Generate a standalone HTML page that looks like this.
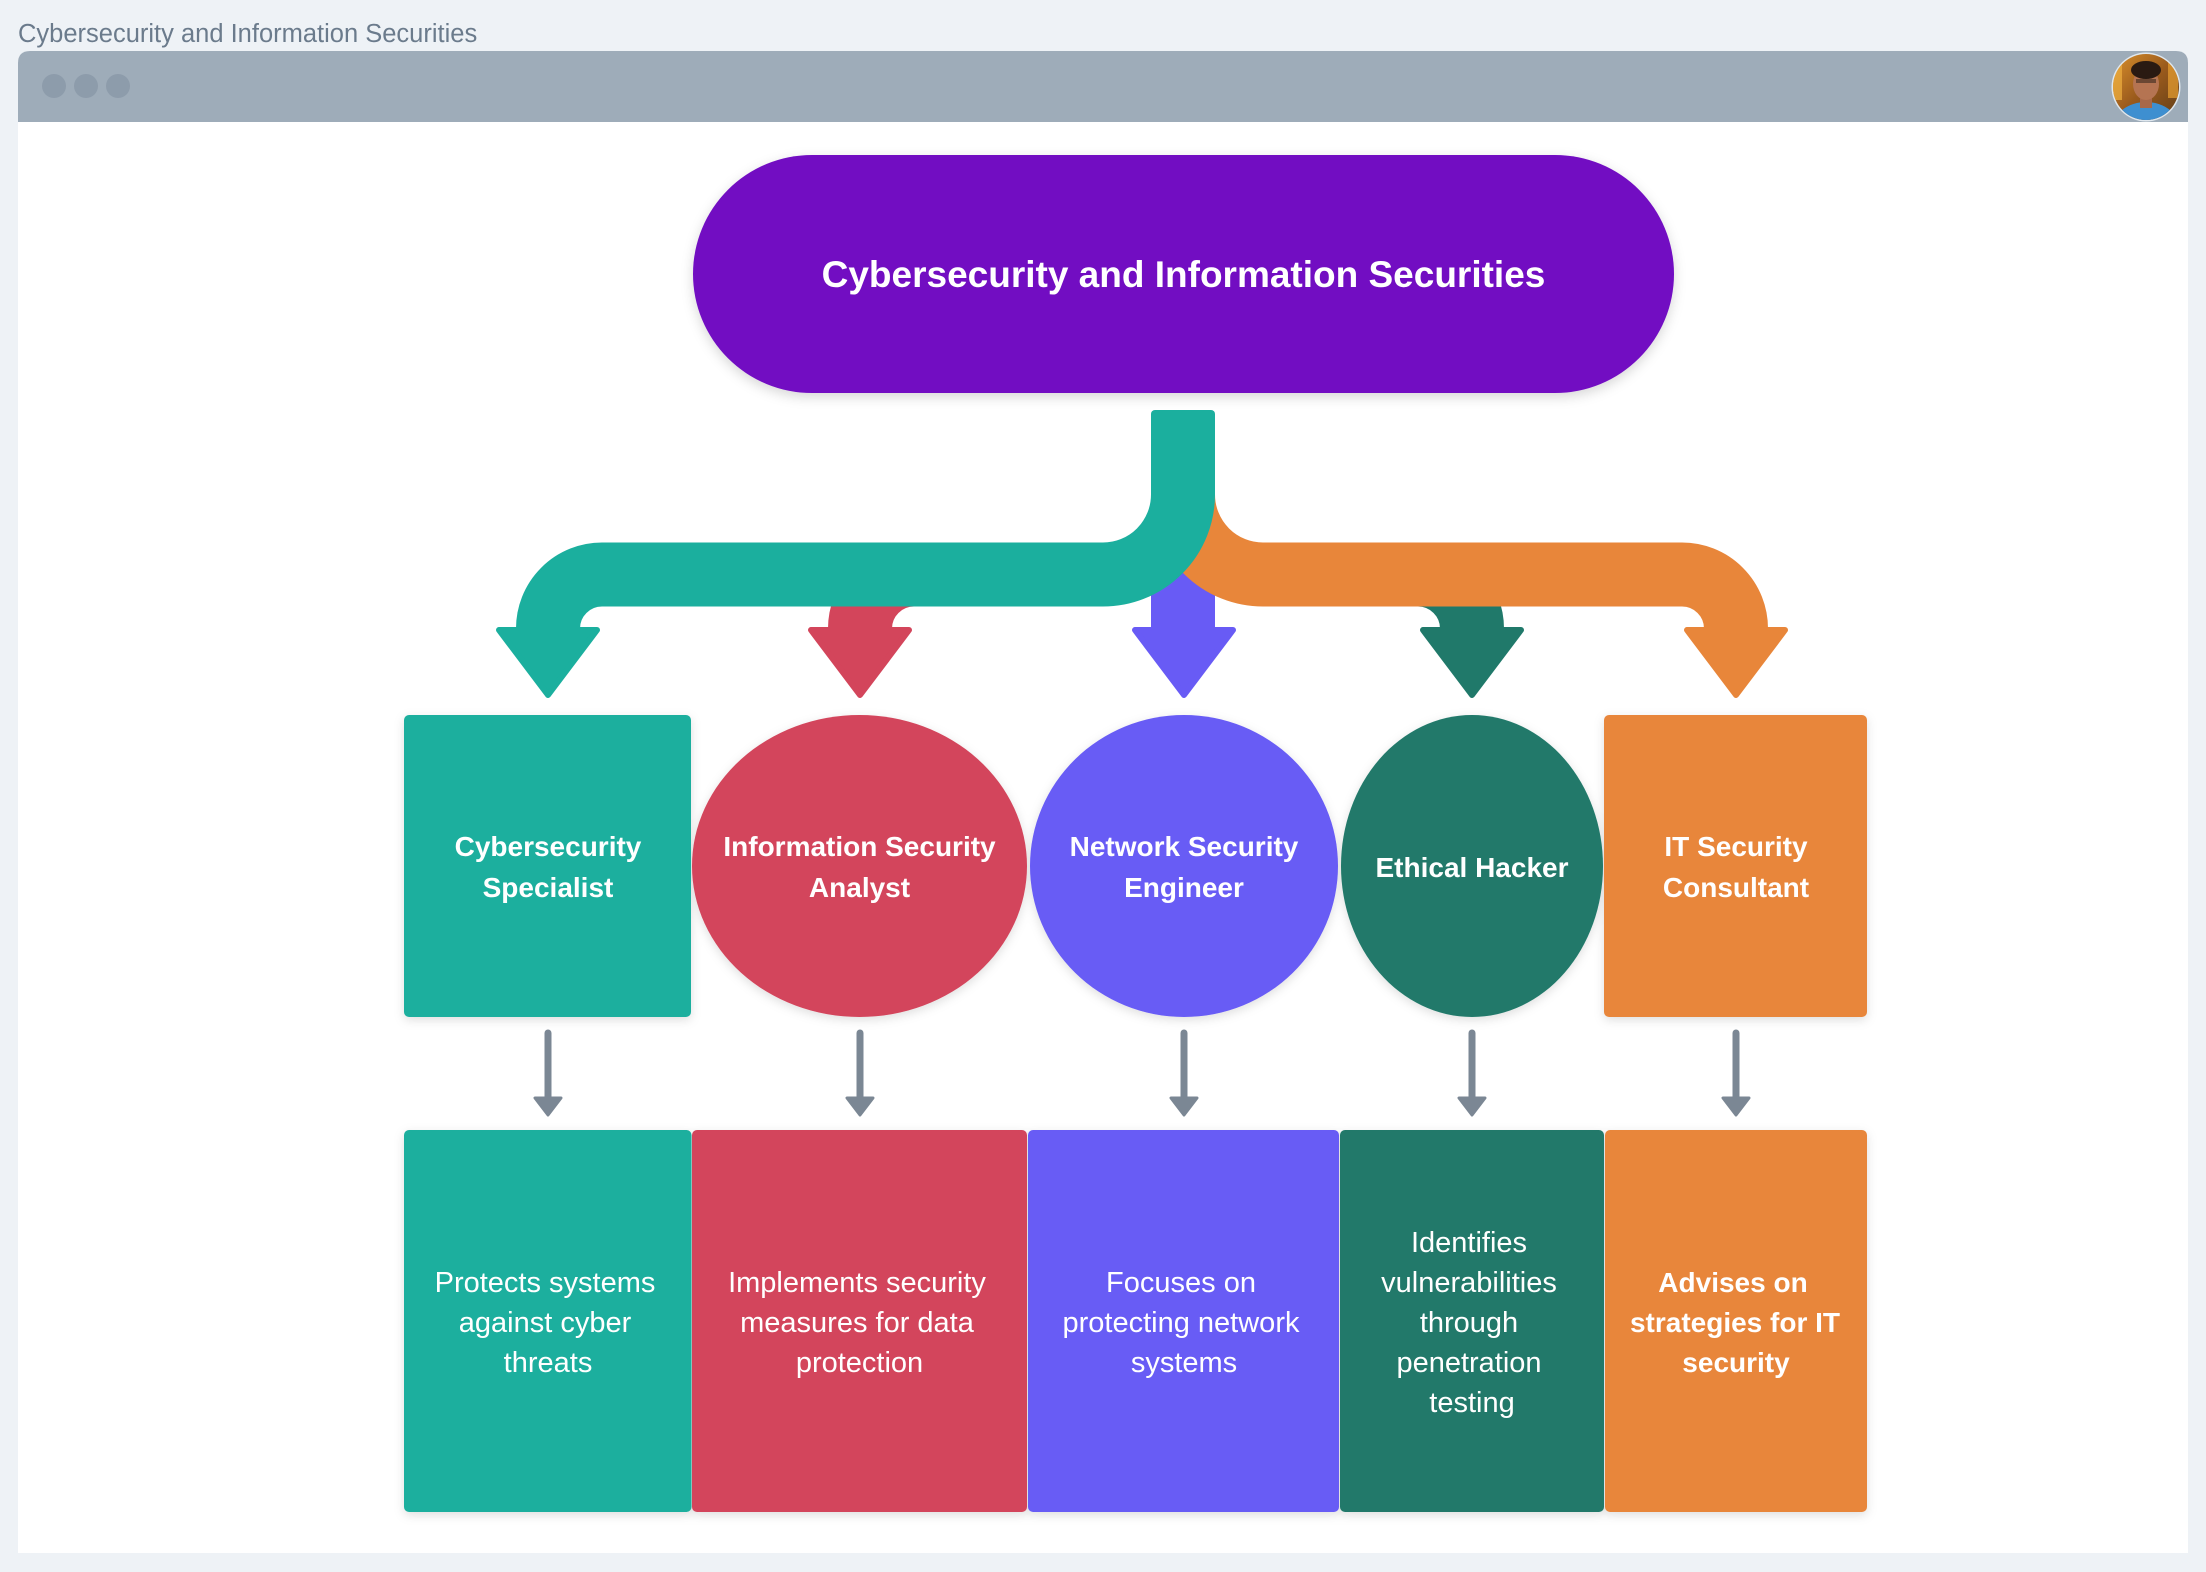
<!DOCTYPE html>
<html>
<head>
<meta charset="utf-8">
<style>
  html,body{margin:0;padding:0;background:#eef2f6;}
  body{width:2206px;height:1572px;overflow:hidden;position:relative;font-family:"Liberation Sans",sans-serif;}
  svg{position:absolute;left:0;top:0;}
</style>
</head>
<body>
<svg width="2206" height="1572" viewBox="0 0 2206 1572" xmlns="http://www.w3.org/2000/svg">
  <defs>
    <filter id="sh" x="-20%" y="-20%" width="140%" height="150%">
      <feDropShadow dx="0" dy="4" stdDeviation="6" flood-color="#000" flood-opacity="0.16"/>
    </filter>
    <filter id="sh2" x="-10%" y="-10%" width="120%" height="130%">
      <feDropShadow dx="0" dy="3" stdDeviation="5" flood-color="#000" flood-opacity="0.13"/>
    </filter>
    <clipPath id="av"><circle cx="2146" cy="87" r="33"/></clipPath>
    <linearGradient id="avbg" x1="0" y1="0" x2="1" y2="1">
      <stop offset="0" stop-color="#e0962e"/>
      <stop offset="0.5" stop-color="#9a5a1c"/>
      <stop offset="1" stop-color="#5a3a18"/>
    </linearGradient>
  </defs>

  <!-- page title -->
  <text x="18" y="42" font-family="Liberation Sans, sans-serif" font-size="25.5" fill="#6b7b8c">Cybersecurity and Information Securities</text>

  <!-- browser frame -->
  <path d="M18,63 Q18,51 30,51 L2176,51 Q2188,51 2188,63 L2188,1553 L18,1553 Z" fill="#ffffff"/>
  <path d="M18,63 Q18,51 30,51 L2176,51 Q2188,51 2188,63 L2188,122 L18,122 Z" fill="#9eacb9"/>
  <circle cx="54" cy="86" r="12" fill="#8d9cab"/>
  <circle cx="86" cy="86" r="12" fill="#8d9cab"/>
  <circle cx="118" cy="86" r="12" fill="#8d9cab"/>

  <!-- avatar -->
  <circle cx="2146" cy="87" r="34.5" fill="#dfe7ee"/>
  <g clip-path="url(#av)">
    <rect x="2110" y="50" width="72" height="74" fill="url(#avbg)"/>
    <rect x="2112" y="60" width="10" height="40" fill="#f0b040" opacity="0.7"/>
    <rect x="2168" y="62" width="10" height="36" fill="#e8a030" opacity="0.7"/>
    <ellipse cx="2146" cy="126" rx="32" ry="24" fill="#3e8fd0"/>
    <rect x="2140" y="96" width="12" height="12" fill="#a8684a"/>
    <ellipse cx="2146" cy="84" rx="13" ry="16" fill="#b57452"/>
    <ellipse cx="2146" cy="70" rx="15" ry="9" fill="#2a1a12"/>
    <rect x="2136" y="79" width="20" height="4" fill="#3a2a20" opacity="0.6"/>
  </g>

  <!-- title pill -->
  <rect x="693" y="155" width="981" height="238" rx="119" ry="119" fill="#7210c2" filter="url(#sh)"/>
  <text x="1183.5" y="287" text-anchor="middle" font-family="Liberation Sans, sans-serif" font-weight="bold" font-size="37" fill="#ffffff">Cybersecurity and Information Securities</text>

  <!-- connectors (bottom to top) -->
  <g fill="none" stroke-width="64" stroke-linecap="butt">
    <!-- red -->
    <path d="M1095,574.5 L914,574.5 A54,54 0 0 0 860,628.5 L860,632" stroke="#d3455b"/>
    <!-- purple -->
    <path d="M1183,480 L1183,632" stroke="#685bf5"/>
    <!-- dark green -->
    <path d="M1271,574.5 L1418,574.5 A54,54 0 0 1 1472,628.5 L1472,632" stroke="#20796a"/>
  </g>
  <g stroke-linejoin="round" stroke-width="6">
    <polygon points="811,630 909,630 860,695" fill="#d3455b" stroke="#d3455b"/>
    <polygon points="1135,630 1233,630 1184,695" fill="#685bf5" stroke="#685bf5"/>
    <polygon points="1423,630 1521,630 1472,695" fill="#20796a" stroke="#20796a"/>
  </g>
  <!-- orange -->
  <path d="M1183,420 L1183,494.5 A80,80 0 0 0 1263,574.5 L1682,574.5 A54,54 0 0 1 1736,628.5 L1736,632" fill="none" stroke="#e8863a" stroke-width="64"/>
  <polygon points="1687,630 1785,630 1736,695" fill="#e8863a" stroke="#e8863a" stroke-width="6" stroke-linejoin="round"/>
  <!-- teal -->
  <path d="M1183,420 L1183,494.5 A80,80 0 0 1 1103,574.5 L602,574.5 A54,54 0 0 0 548,628.5 L548,632" fill="none" stroke="#1baf9e" stroke-width="64"/>
  <rect x="1151" y="410" width="64" height="30" rx="4" fill="#1baf9e"/>
  <polygon points="499,630 597,630 548,695" fill="#1baf9e" stroke="#1baf9e" stroke-width="6" stroke-linejoin="round"/>

  <!-- row 1 nodes -->
  <g filter="url(#sh2)">
    <rect x="404" y="715" width="287" height="302" rx="5" fill="#1baf9e"/>
    <ellipse cx="859.5" cy="866" rx="167.5" ry="151" fill="#d3455b"/>
    <ellipse cx="1184" cy="866" rx="154" ry="151" fill="#685bf5"/>
    <ellipse cx="1472" cy="866" rx="131" ry="151" fill="#20796a"/>
    <rect x="1604" y="715" width="263" height="302" rx="5" fill="#e8863a"/>
  </g>
  <g font-family="Liberation Sans, sans-serif" font-weight="bold" font-size="28" fill="#ffffff" text-anchor="middle">
    <text x="548" y="856">Cybersecurity</text>
    <text x="548" y="897">Specialist</text>
    <text x="859.5" y="856">Information Security</text>
    <text x="859.5" y="897">Analyst</text>
    <text x="1184" y="856">Network Security</text>
    <text x="1184" y="897">Engineer</text>
    <text x="1472" y="877">Ethical Hacker</text>
    <text x="1736" y="856">IT Security</text>
    <text x="1736" y="897">Consultant</text>
  </g>

  <!-- gray arrows -->
  <g stroke="#7b8794" stroke-width="7" stroke-linecap="round" fill="none">
    <line x1="548" y1="1033" x2="548" y2="1100"/>
    <line x1="860" y1="1033" x2="860" y2="1100"/>
    <line x1="1184" y1="1033" x2="1184" y2="1100"/>
    <line x1="1472" y1="1033" x2="1472" y2="1100"/>
    <line x1="1736" y1="1033" x2="1736" y2="1100"/>
  </g>
  <g fill="#7b8794" stroke="#7b8794" stroke-width="3" stroke-linejoin="round">
    <polygon points="535,1098 561,1098 548,1115"/>
    <polygon points="847,1098 873,1098 860,1115"/>
    <polygon points="1171,1098 1197,1098 1184,1115"/>
    <polygon points="1459,1098 1485,1098 1472,1115"/>
    <polygon points="1723,1098 1749,1098 1736,1115"/>
  </g>

  <!-- row 2 boxes -->
  <g filter="url(#sh2)">
    <rect x="404" y="1130" width="287.5" height="382" rx="5" fill="#1baf9e"/>
    <rect x="692" y="1130" width="335" height="382" rx="5" fill="#d3455b"/>
    <rect x="1028" y="1130" width="311" height="382" rx="5" fill="#685bf5"/>
    <rect x="1340" y="1130" width="264" height="382" rx="5" fill="#20796a"/>
    <rect x="1605" y="1130" width="262" height="382" rx="5" fill="#e8863a"/>
  </g>
  <g font-family="Liberation Sans, sans-serif" font-size="29" fill="#ffffff" text-anchor="middle">
    <text x="545" y="1292">Protects systems</text>
    <text x="545" y="1332">against cyber</text>
    <text x="548" y="1372">threats</text>
    <text x="857" y="1292">Implements security</text>
    <text x="857" y="1332">measures for data</text>
    <text x="859.5" y="1372">protection</text>
    <text x="1181" y="1292">Focuses on</text>
    <text x="1181" y="1332">protecting network</text>
    <text x="1184" y="1372">systems</text>
    <text x="1469" y="1252">Identifies</text>
    <text x="1469" y="1292">vulnerabilities</text>
    <text x="1469" y="1332">through</text>
    <text x="1469" y="1372">penetration</text>
    <text x="1472" y="1412">testing</text>
  </g>
  <g font-family="Liberation Sans, sans-serif" font-weight="bold" font-size="28" fill="#ffffff" text-anchor="middle">
    <text x="1733" y="1292">Advises on</text>
    <text x="1735" y="1332">strategies for IT</text>
    <text x="1736" y="1372">security</text>
  </g>
</svg>
</body>
</html>
